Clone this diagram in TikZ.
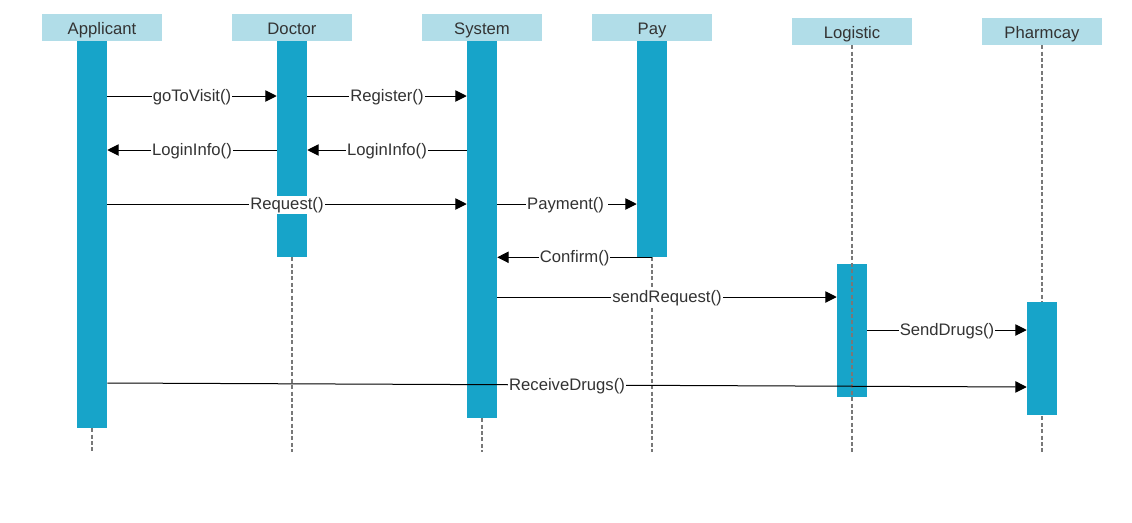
\documentclass[tikz,border=0pt]{standalone}
\usepackage{fontspec}
\setmainfont{Liberation Sans}
\usetikzlibrary{arrows.meta,positioning}
\definecolor{barblue}{RGB}{23,164,201}
\definecolor{headblue}{RGB}{177,221,232}
\definecolor{txtgray}{RGB}{51,51,51}
\definecolor{lifegray}{RGB}{120,120,120}
\tikzset{
  head/.style={fill=headblue, minimum width=90pt, minimum height=20.25pt, inner sep=0pt,
    text=txtgray, font=\fontsize{12.5}{14}\selectfont, text height=11pt, text depth=0pt},
  bar/.style={fill=barblue, minimum width=22.5pt, inner sep=0pt},
  life/.style={lifegray, line width=1.7pt, dash pattern=on 3pt off 1.8pt},
  msg/.style={line width=0.75pt, -{Triangle[length=8.5pt,width=8.5pt]}},
  lbl/.style={fill=white, text=txtgray, inner sep=0.8pt, yshift=-0.8pt,
    font=\fontsize{12.5}{14}\selectfont}
}

\begin{document}
\begin{tikzpicture}[x=0.75pt,y=-0.75pt]
  \useasboundingbox (0,0) rectangle (1132,522);
  %%%%% HEADERS %%%%%
  \node[head] (applicant) at (102,27.5) {Applicant};
  \node[head] (doctor) at (292,27.5) {Doctor};
  \node[head] (system) at (482,27.5) {System};
  \node[head] (pay) at (652,27.5) {Pay};
  \node[head] (logistic) at (852,31.5) {Logistic};
  \node[head] (pharmcay) at (1042,31.5) {Pharmcay};

  %%%%% ACTIVATIONS %%%%%
  \node[bar, minimum height=290.25pt] (appbar) at (92,234.5) {};
  \node[bar, minimum height=162pt] (docbar) at (292,149) {};
  \node[bar, minimum height=282.75pt] (sysbar) at (482,229.5) {};
  \node[bar, minimum height=162pt] (paybar) at (652,149) {};

  \draw[life] (pharmcay.south) -- (pharmcay.south |- 0,452);
  \node[bar, minimum height=99.75pt] (logbar) at (852,330.5) {};
  \node[bar, minimum height=84.75pt] (phabar) at (1042,358.5) {};

  %%%%% LIFELINES %%%%%
  \draw[life] (appbar.south) -- (appbar.south |- 0,452);
  \draw[life] (docbar.south) -- (docbar.south |- 0,452);
  \draw[life] (sysbar.south) -- (sysbar.south |- 0,452);
  \draw[life] (paybar.south) -- (paybar.south |- 0,452);
  \draw[life] (logistic.south) -- (logistic.south |- 0,452);

  %%%%% MESSAGES %%%%%
  \draw[msg] (appbar.east |- 0,96) -- node[lbl] {goToVisit()} (docbar.west |- 0,96);
  \draw[msg] (docbar.east |- 0,96) -- node[lbl] {Register()} (sysbar.west |- 0,96);
  \draw[msg] (sysbar.west |- 0,150) -- node[lbl] {LoginInfo()} (docbar.east |- 0,150);
  \draw[msg] (docbar.west |- 0,150) -- node[lbl] {LoginInfo()} (appbar.east |- 0,150);
  \draw[msg] (appbar.east |- 0,204) -- node[lbl] {Request()} (sysbar.west |- 0,204);
  \draw[msg] (sysbar.east |- 0,204) -- node[lbl] {Payment()\,} (paybar.west |- 0,204);
  \draw[msg] (paybar.south) -- node[lbl] {Confirm()} (sysbar.east |- paybar.south);
  \draw[msg] (sysbar.east |- 0,297) -- node[lbl] {sendRequest()} (logbar.west |- 0,297);
  \draw[msg] (logbar.east |- 0,330) -- node[lbl] {SendDrugs()} (phabar.west |- 0,330);
  \draw[msg] (appbar.east |- 0,383) -- node[lbl] {ReceiveDrugs()} (phabar.west |- 0,387);
\end{tikzpicture}
\end{document}
